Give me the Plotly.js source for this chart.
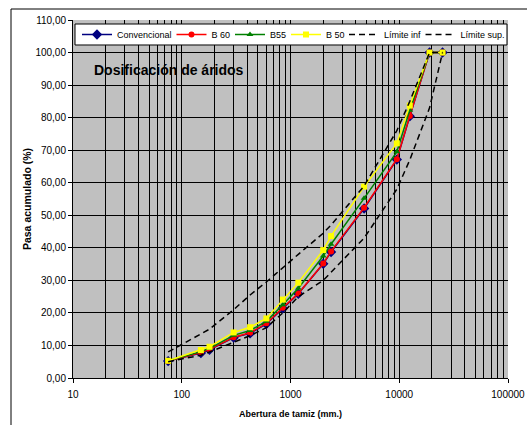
<!DOCTYPE html>
<html>
<head>
<meta charset="utf-8">
<script src="https://cdn.plot.ly/plotly-3.0.1.min.js"></script>
<style>html,body{margin:0;padding:0;background:#fff;}#chart{width:527px;height:425px;}</style>
</head>
<body>
<div id="chart"></div>
<script>
// Sieve openings (x axis, log)
var sieves = [75, 150, 180, 300, 425, 600, 850, 1180, 2000, 2360, 4750, 9500, 12500, 19000, 25000];
// % passing per mix
var convencional = [5.2, 7.7, 8.7, 12.4, 13.7, 16.6, 21.4, 25.9, 35.1, 38.7, 52.1, 67.1, 80.4, 100, 100];
var b60 = [5.2, 7.8, 8.8, 12.5, 13.9, 16.8, 21.6, 26.0, 35.2, 38.9, 52.3, 67.2, 80.5, 100, 100];
var b55 = [5.3, 8.1, 9.1, 13.1, 14.6, 17.4, 22.5, 27.6, 37.5, 41.1, 55.2, 69.5, 82.3, 100, 100];
var b50 = [5.3, 8.6, 9.6, 14.0, 15.6, 18.3, 24.1, 29.3, 39.3, 43.6, 58.8, 72.1, 83.7, 100, 100];
var limiteInf = [5, 7, 8, 11, 13, 15.5, 20, 25, 30, 32.5, 43, 58, 67, 83, 100];
var limiteSup = [8, 13.5, 15, 21, 25.5, 29.5, 34, 38, 44.5, 47, 59, 76, 85, 100, 100];

var seriesNames = ['Convencional', 'B 60', 'B55', 'B 50', 'Límite inf', 'Límite sup.'];
var xTickVals = [10, 100, 1000, 10000, 100000];
var xTickText = ['10', '100', '1000', '10000', '100000'];

var minorVals = [];
for (var d = 10; d < 100000; d *= 10) {
  for (var k = 2; k <= 9; k++) minorVals.push(d * k);
}

var traces = [
  {x: sieves, y: convencional, name: seriesNames[0], mode: 'lines+markers', legend: 'legend',
   line: {color: '#000080', width: 1.5}, marker: {symbol: 'diamond', size: 8, color: '#000080'}},
  {x: sieves, y: b60, name: seriesNames[1], mode: 'lines+markers', legend: 'legend2',
   line: {color: '#FF0000', width: 1.5}, marker: {symbol: 'circle', size: 6, color: '#FF0000'}},
  {x: sieves, y: b55, name: seriesNames[2], mode: 'lines+markers', legend: 'legend3',
   line: {color: '#008000', width: 1.5}, marker: {symbol: 'triangle-up', size: 6, color: '#008000'}},
  {x: sieves, y: b50, name: seriesNames[3], mode: 'lines+markers', legend: 'legend4',
   line: {color: '#FFFF00', width: 1.5}, marker: {symbol: 'square', size: 6, color: '#FFFF00'}},
  {x: sieves, y: limiteInf, name: seriesNames[4], mode: 'lines', legend: 'legend5',
   line: {color: '#000000', width: 1.5, dash: '6px,4px'}},
  {x: sieves, y: limiteSup, name: seriesNames[5], mode: 'lines', legend: 'legend6',
   line: {color: '#000000', width: 1.5, dash: '6px,4px'}}
];

function leg(x) {
  return {orientation: 'h', x: x, y: 0.9595, xanchor: 'left', yanchor: 'middle',
          bgcolor: 'rgba(0,0,0,0)', borderwidth: 0, font: {size: 9}, itemwidth: 30};
}

var layout = {
  width: 527, height: 425,
  margin: {l: 73, r: 19, t: 20, b: 47, autoexpand: false},
  paper_bgcolor: '#FFFFFF',
  plot_bgcolor: '#C0C0C0',
  separators: ',.',
  font: {family: 'Liberation Sans, Arial, sans-serif', size: 10, color: '#000'},
  showlegend: true,
  legend: leg(0.0092),
  legend2: leg(0.2264),
  legend3: leg(0.3609),
  legend4: leg(0.4897),
  legend5: leg(0.6230),
  legend6: leg(0.7989),
  xaxis: {
    type: 'log', range: [1, 5],
    tickmode: 'array', tickvals: xTickVals, ticktext: xTickText,
    ticks: 'outside', ticklen: 4, tickcolor: '#000', ticklabelstandoff: 3,
    showgrid: true, gridcolor: '#000', gridwidth: 1,
    minor: {tickmode: 'array', tickvals: minorVals, showgrid: true, gridcolor: '#000', gridwidth: 1, ticks: ''},
    showline: true, linecolor: '#000', linewidth: 1,
    zeroline: false,
    tickfont: {size: 10},
    title: {text: '<b>Abertura de tamiz (mm.)</b>', font: {size: 9}, standoff: 11}
  },
  yaxis: {
    range: [0, 110], dtick: 10, tick0: 0, tickformat: '.2f',
    ticks: 'outside', ticklen: 4, tickcolor: '#000',
    showgrid: true, gridcolor: '#000', gridwidth: 1,
    showline: true, linecolor: '#000', linewidth: 1,
    zeroline: false,
    tickfont: {size: 10},
    title: {text: '<b>Pasa acumulado (%)</b>', font: {size: 10.5}, standoff: 1}
  },
  annotations: [
    {text: '<b>Dosificación de áridos</b>', xref: 'paper', yref: 'paper',
     x: 0.044, y: 0.86, xanchor: 'left', yanchor: 'middle', showarrow: false,
     font: {size: 14, color: '#000'}}
  ],
  shapes: [
    {type: 'rect', xref: 'paper', yref: 'paper', x0: -0.1425, x1: 1.2, y0: -0.3, y1: 1.0307,
     line: {color: '#000', width: 1}, fillcolor: 'rgba(0,0,0,0)', layer: 'below'},
    {type: 'rect', xref: 'paper', yref: 'paper', x0: 0.0046, x1: 0.9977, y0: 0.9302, y1: 0.9888,
     line: {color: '#000', width: 1}, fillcolor: '#FFFFFF', layer: 'above'}
  ]
};

Plotly.newPlot('chart', traces, layout, {displayModeBar: false, staticPlot: true});
</script>
</body>
</html>
